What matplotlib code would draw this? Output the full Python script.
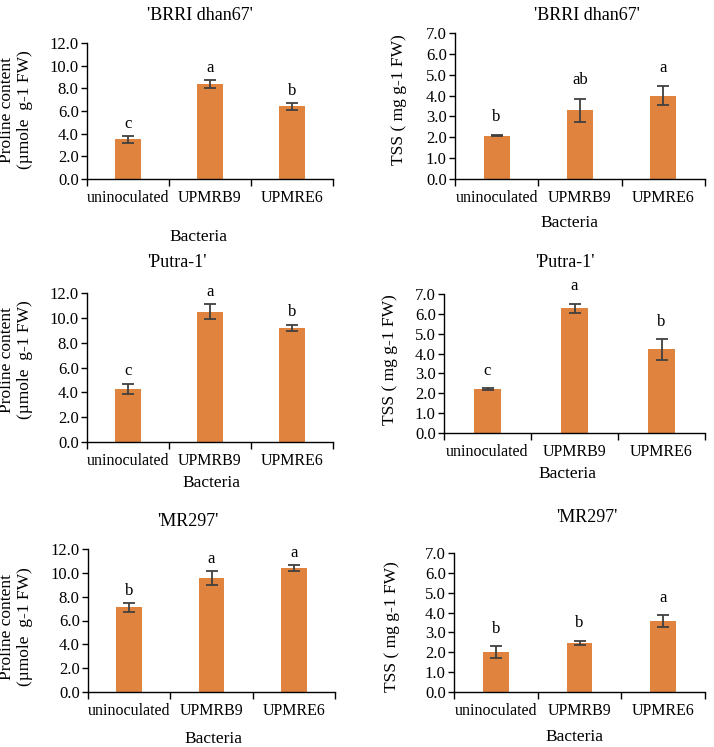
import numpy as np
import matplotlib
matplotlib.use("Agg")
import matplotlib.pyplot as plt

plt.rcParams['font.family'] = ['Liberation Serif', 'DejaVu Serif']

bacteria = ["uninoculated", "UPMRB9", "UPMRE6"]
varieties = ["'BRRI dhan67'", "'Putra-1'", "'MR297'"]

# proline content (umole g-1 FW)
proline_mean = [[3.5, 8.4, 6.4],
                [4.3, 10.5, 9.2],
                [7.1, 9.6, 10.4]]
proline_err = [[0.3, 0.35, 0.35],
               [0.4, 0.6, 0.25],
               [0.35, 0.58, 0.25]]
proline_letters = [["c", "a", "b"],
                   ["c", "a", "b"],
                   ["b", "a", "a"]]

# total soluble sugar (mg g-1 FW)
tss_mean = [[2.07, 3.3, 4.0],
            [2.22, 6.28, 4.22],
            [2.02, 2.48, 3.57]]
tss_err = [[0.03, 0.55, 0.45],
           [0.05, 0.24, 0.52],
           [0.3, 0.1, 0.3]]
tss_letters = [["b", "ab", "a"],
               ["c", "a", "b"],
               ["b", "b", "a"]]

W, H = 714, 747
bar_color = "#E0833F"
err_color = "#404040"

fig = plt.figure(figsize=(W / 100, H / 100), dpi=100)

def px(x, y):
    return x / W, 1 - y / H

def box(l, r, b, t):
    return [l / W, 1 - b / H, (r - l) / W, (b - t) / H]

# axes boxes in pixels: left, right, bottom, top
boxes = [
    (box(87, 333, 179, 43), box(455, 705, 179, 33)),
    (box(87, 333, 442, 293), box(444, 705, 433, 294)),
    (box(88, 335, 692, 549), box(454, 705, 692, 553)),
]
titles_xy = [((200, 15), (587, 15)), ((177, 263), (565, 263)), ((188, 522), (587, 517))]
xlab_xy = [((198, 237), (569, 223)), ((211, 483), (567, 474)), ((213, 739), (574, 737))]
ylab_xy = [((16, 110), (399, 100)), ((16, 360), (390, 360)), ((16, 627), (392, 627))]


def draw(ax, means, errs, letters, ymax, step, off):
    x = np.arange(len(bacteria))
    ax.bar(x, means, width=0.31, color=bar_color, zorder=2)
    ax.errorbar(x, means, yerr=errs, fmt='none', ecolor=err_color,
                elinewidth=1.3, capsize=4.5, capthick=1.3, zorder=3)
    for xi, m, e, s in zip(x, means, errs, letters):
        ax.text(xi, m + e + off * ymax, s, ha='center', va='center', fontsize=12)
    ax.set_xlim(-0.5, 2.5)
    ax.set_ylim(0, ymax)
    ax.set_yticks(np.arange(0, ymax + 0.01, step))
    ax.set_yticklabels([f"{v:.1f}" for v in np.arange(0, ymax + 0.01, step)])
    ax.set_xticks(x)
    ax.set_xticklabels(bacteria)
    ax.set_xticks([-0.5, 0.5, 1.5, 2.5], minor=True)
    ax.tick_params(axis='x', which='major', length=0, labelsize=11.5, pad=8)
    ax.tick_params(axis='x', which='minor', length=5, width=1, direction='out')
    ax.tick_params(axis='y', length=4, width=1, direction='out', labelsize=12, pad=2)
    for s in ['top', 'right']:
        ax.spines[s].set_visible(False)
    for s in ['left', 'bottom']:
        ax.spines[s].set_linewidth(1)
        ax.spines[s].set_color('black')


for i in range(3):
    ax1 = fig.add_axes(boxes[i][0])
    draw(ax1, proline_mean[i], proline_err[i], proline_letters[i], 12, 2, 0.085)
    ax2 = fig.add_axes(boxes[i][1])
    draw(ax2, tss_mean[i], tss_err[i], tss_letters[i], 7, 1, 0.125)

    for j in range(2):
        fig.text(*px(*titles_xy[i][j]), varieties[i], ha='center', va='center', fontsize=13)
        fig.text(*px(*xlab_xy[i][j]), "Bacteria", ha='center', va='center', fontsize=12.5)
    fig.text(*px(*ylab_xy[i][0]), "Proline content\n(µmole  g-1 FW)", ha='center', va='center',
             rotation=90, fontsize=12.5, linespacing=1.1)
    fig.text(*px(*ylab_xy[i][1]), "TSS ( mg g-1 FW)", ha='center', va='center',
             rotation=90, fontsize=12.5)

fig.savefig("out.png", dpi=100, facecolor='white')
